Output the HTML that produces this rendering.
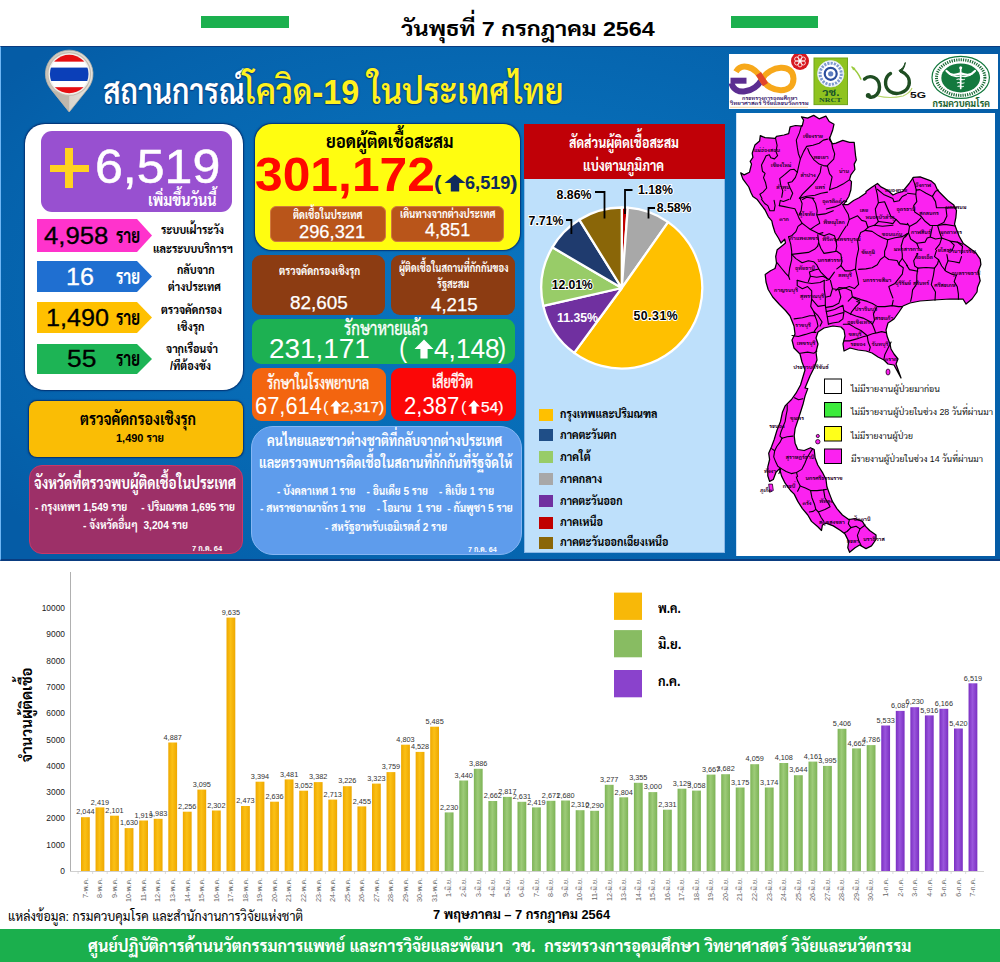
<!DOCTYPE html>
<html lang="th"><head><meta charset="utf-8"><title>สถานการณ์โควิด-19 ในประเทศไทย</title>
<style>
html,body{margin:0;padding:0;background:#fff;}
body{width:1000px;height:962px;position:relative;overflow:hidden;font-family:"Liberation Sans","Sarabun","Loma","Noto Sans Thai",sans-serif;color:#000;}
.a{position:absolute;white-space:nowrap;}
.b{font-weight:bold;}
.box{position:absolute;box-sizing:border-box;}
#panel{left:0;top:46px;width:1000px;height:515px;background:radial-gradient(ellipse 62% 70% at 50% 48%,#0974BF 0%,#076BB5 50%,#0562AC 85%,#055CA6 100%);border-top:1.5px solid #0a3c80;border-bottom:2px solid #0a3c80;border-left:1.5px solid #6fb6f4;}
.sh{box-shadow:0 0 1.5px 0.5px rgba(0,20,80,.65);}
svg text{font-family:"Liberation Sans","Sarabun","Loma","Noto Sans Thai",sans-serif;}
</style></head><body>
<!-- header -->
<div class="box" style="left:201px;top:16px;width:88px;height:12px;background:#1BB04E"></div>
<div class="box" style="left:731px;top:16px;width:87px;height:12px;background:#1BB04E"></div>
<div class="a b" style="left:400.9px;top:11.7px;font-size:21px;line-height:34px;color:#000;transform:scaleX(1.111);transform-origin:0 50%;">วันพุธที่ 7 กรกฎาคม 2564</div>
<div class="box" id="panel"></div>

<!-- pin -->
<svg class="a" style="left:40px;top:48px" width="60" height="68" viewBox="40 48 60 68">
<defs><linearGradient id="pg" x1="0" y1="0" x2="1" y2="0"><stop offset="0" stop-color="#c9c3b9"/><stop offset="0.5" stop-color="#d9d5cd"/><stop offset="1" stop-color="#e6e3dd"/></linearGradient>
<clipPath id="fc"><circle cx="69.2" cy="74" r="19.3"/></clipPath></defs>
<path d="M69.2,112 L50.7,88.9 A23.8,23.8 0 1 1 87.7,88.9 Z" fill="url(#pg)" stroke="#b9b2a6" stroke-width="0.8" stroke-linejoin="round"/>
<path d="M69.2,112 L69.2,95 L52,90.5 Z" fill="#b5aea3" opacity="0.75"/>
<circle cx="69.2" cy="74" r="21.3" fill="#f3f1ec" stroke="#c4beb3" stroke-width="1.2"/>
<g clip-path="url(#fc)"><rect x="49" y="54" width="41" height="7.8" fill="#E60E12"/><rect x="49" y="61.8" width="41" height="5.8" fill="#fff"/><rect x="49" y="67.6" width="41" height="13.4" fill="#0B3FB8"/><rect x="49" y="81" width="41" height="6.2" fill="#fff"/><rect x="49" y="87.2" width="41" height="8" fill="#E60E12"/></g>
</svg>
<div class="a b" style="left:102.5px;top:63.9px;font-size:35px;line-height:56px;color:#fff;transform:scaleX(0.845);transform-origin:0 50%;font-weight:600;text-shadow:0 0 2px #0a3a7c,0 1px 1px #0a3a7c;">สถานการณ์</div>
<div class="a b" style="left:242.5px;top:63.9px;font-size:35px;line-height:56px;color:#FFF21E;transform:scaleX(0.923);transform-origin:0 50%;font-weight:600;text-shadow:0 0 2px #0a3a7c,0 1px 1px #0a3a7c;">โควิด-19 ในประเทศไทย</div>

<!-- left white box -->
<div class="box sh" style="left:24.7px;top:124px;width:218.7px;height:266.3px;background:#fff;border-radius:20px;"></div>
<div class="box" style="left:41px;top:131px;width:191px;height:81px;background:#9850D0;border-radius:11px;"></div>
<div class="box" style="left:49.5px;top:164.5px;width:39.5px;height:7px;background:#FFD21F;"></div>
<div class="box" style="left:65px;top:148px;width:8px;height:40px;background:#FFD21F;"></div>
<div class="a" style="left:94.6px;top:128.8px;font-size:47.5px;line-height:76px;color:#fff;transform:scaleX(1.054);transform-origin:0 50%;-webkit-text-stroke:0.5px #fff;">6,519</div>
<div class="a b" style="left:147.5px;top:187.8px;font-size:16px;line-height:26px;color:#fff;transform:scaleX(0.890);transform-origin:0 50%;">เพิ่มขึ้นวันนี้</div>
<svg class="a" style="left:37px;top:219px" width="116" height="33"><polygon points="0,0 100,0 115,16.5 100,33 0,33" fill="#FF33CC"/></svg>
<div class="a" style="left:43.8px;top:215.8px;font-size:24.5px;line-height:39px;color:#000;transform:scaleX(1.051);transform-origin:0 50%;-webkit-text-stroke:0.3px #000;">4,958</div>
<div class="a b" style="left:116.0px;top:220.6px;font-size:19.5px;line-height:31px;color:#000;transform:scaleX(0.771);transform-origin:0 50%;">ราย</div>
<div class="a b" style="left:161.0px;top:220.4px;font-size:12.5px;line-height:20px;color:#000;transform:scaleX(0.855);transform-origin:0 50%;">ระบบเฝ้าระวัง</div>
<div class="a b" style="left:153.0px;top:239.4px;font-size:12.5px;line-height:20px;color:#000;transform:scaleX(0.860);transform-origin:0 50%;">และระบบบริการฯ</div>
<svg class="a" style="left:37px;top:261px" width="116" height="31"><polygon points="0,0 100,0 115,15.5 100,31 0,31" fill="#1F6FD1"/></svg>
<div class="a" style="left:65.8px;top:256.8px;font-size:24.5px;line-height:39px;color:#fff;transform:scaleX(1.025);transform-origin:0 50%;-webkit-text-stroke:0.3px #fff;">16</div>
<div class="a b" style="left:116.0px;top:261.6px;font-size:19.5px;line-height:31px;color:#fff;transform:scaleX(0.771);transform-origin:0 50%;">ราย</div>
<div class="a b" style="left:177.0px;top:260.4px;font-size:12.5px;line-height:20px;color:#000;transform:scaleX(0.851);transform-origin:0 50%;">กลับจาก</div>
<div class="a b" style="left:168.0px;top:276.9px;font-size:12.5px;line-height:20px;color:#000;transform:scaleX(0.854);transform-origin:0 50%;">ต่างประเทศ</div>
<svg class="a" style="left:37px;top:302px" width="116" height="31"><polygon points="0,0 100,0 115,15.5 100,31 0,31" fill="#FFC000"/></svg>
<div class="a" style="left:46.3px;top:297.8px;font-size:24.5px;line-height:39px;color:#000;transform:scaleX(1.027);transform-origin:0 50%;-webkit-text-stroke:0.3px #000;">1,490</div>
<div class="a b" style="left:116.0px;top:302.6px;font-size:19.5px;line-height:31px;color:#000;transform:scaleX(0.771);transform-origin:0 50%;">ราย</div>
<div class="a b" style="left:161.0px;top:300.4px;font-size:12.5px;line-height:20px;color:#000;transform:scaleX(0.864);transform-origin:0 50%;">ตรวจคัดกรอง</div>
<div class="a b" style="left:177.0px;top:316.9px;font-size:12.5px;line-height:20px;color:#000;transform:scaleX(0.861);transform-origin:0 50%;">เชิงรุก</div>
<svg class="a" style="left:37px;top:344px" width="116" height="30"><polygon points="0,0 100,0 115,15.0 100,30 0,30" fill="#1DB455"/></svg>
<div class="a" style="left:66.8px;top:339.3px;font-size:24.5px;line-height:39px;color:#000;transform:scaleX(1.080);transform-origin:0 50%;-webkit-text-stroke:0.3px #000;">55</div>
<div class="a b" style="left:116.0px;top:344.1px;font-size:19.5px;line-height:31px;color:#000;transform:scaleX(0.771);transform-origin:0 50%;">ราย</div>
<div class="a b" style="left:166.0px;top:339.4px;font-size:12.5px;line-height:20px;color:#000;transform:scaleX(0.860);transform-origin:0 50%;">จากเรือนจำ</div>
<div class="a b" style="left:170.0px;top:356.4px;font-size:12.5px;line-height:20px;color:#000;transform:scaleX(0.867);transform-origin:0 50%;">/ที่ต้องขัง</div>

<div class="box sh" style="left:28.5px;top:401.2px;width:214.3px;height:56px;background:#FABD05;border-radius:8px;"></div>
<div class="a b" style="left:80.0px;top:405.7px;font-size:17px;line-height:27px;color:#000;transform:scaleX(0.832);transform-origin:0 50%;">ตรวจคัดกรองเชิงรุก</div>
<div class="a b" style="left:116.0px;top:428.5px;font-size:11.5px;line-height:18px;color:#000;transform:scaleX(0.954);transform-origin:0 50%;">1,490 ราย</div>
<div class="box" style="left:29px;top:465px;width:214px;height:89px;background:#9D3068;border-radius:13px;border:1px solid #c83868;"></div>
<div class="a b" style="left:34.0px;top:471.3px;font-size:16px;line-height:26px;color:#fff;transform:scaleX(0.840);transform-origin:0 50%;">จังหวัดที่ตรวจพบผู้ติดเชื้อในประเทศ</div>
<div class="a b" style="left:35.0px;top:497.5px;font-size:11px;line-height:18px;color:#fff;transform:scaleX(0.916);transform-origin:0 50%;">- กรุงเทพฯ 1,549 ราย &nbsp;&nbsp;&nbsp; - ปริมณฑล 1,695 ราย</div>
<div class="a b" style="left:82.5px;top:516.2px;font-size:11px;line-height:18px;color:#fff;transform:scaleX(0.926);transform-origin:0 50%;">- จังหวัดอื่นๆ &nbsp;3,204 ราย</div>
<div class="a b" style="left:192.1px;top:542.8px;font-size:7.5px;line-height:12px;color:#fff;transform:scaleX(1.008);transform-origin:0 50%;">7 ก.ค. 64</div>

<!-- middle column -->
<div class="box sh" style="left:254.7px;top:124px;width:265.3px;height:125.7px;background:#FFFD10;border-radius:17px;"></div>
<div class="a b" style="left:326.0px;top:128.2px;font-size:18px;line-height:29px;color:#000;transform:scaleX(0.927);transform-origin:0 50%;">ยอดผู้ติดเชื้อสะสม</div>
<div class="a b" style="left:255.2px;top:135.1px;font-size:49px;line-height:78px;color:#FF0800;transform:scaleX(1.016);transform-origin:0 50%;">301,172</div>
<div class="a b" style="left:434.0px;top:167.2px;font-size:20px;line-height:32px;color:#0F2A5C;transform:scaleX(1.124);transform-origin:0 50%;">(</div>
<div class="a b" style="left:465.1px;top:169.2px;font-size:18px;line-height:29px;color:#0F2A5C;transform:scaleX(1.008);transform-origin:0 50%;">6,519</div>
<div class="a b" style="left:510.0px;top:167.2px;font-size:20px;line-height:32px;color:#0F2A5C;transform:scaleX(1.139);transform-origin:0 50%;">)</div>
<svg class="a" style="left:444px;top:174px" width="22" height="18"><polygon points="11,0.5 21.5,9 15.2,9 15.2,17.5 6.8,17.5 6.8,9 0.5,9" fill="#0F2A5C"/></svg>
<div class="box" style="left:270px;top:206px;width:116px;height:36px;background:#B9551A;border-radius:6px;border:1px solid #d0793f;"></div>
<div class="box" style="left:391px;top:206px;width:113px;height:36px;background:#B9551A;border-radius:6px;border:1px solid #d0793f;"></div>
<div class="a b" style="left:293.0px;top:206.4px;font-size:12px;line-height:19px;color:#fff;transform:scaleX(0.801);transform-origin:0 50%;">ติดเชื้อในประเทศ</div>
<div class="a" style="left:298.7px;top:218.3px;font-size:18px;line-height:29px;color:#fff;transform:scaleX(1.017);transform-origin:0 50%;-webkit-text-stroke:0.25px #fff;">296,321</div>
<div class="a b" style="left:400.0px;top:204.9px;font-size:12px;line-height:19px;color:#fff;transform:scaleX(0.805);transform-origin:0 50%;">เดินทางจากต่างประเทศ</div>
<div class="a" style="left:424.7px;top:216.3px;font-size:18px;line-height:29px;color:#fff;transform:scaleX(1.003);transform-origin:0 50%;-webkit-text-stroke:0.25px #fff;">4,851</div>

<div class="box" style="left:252px;top:255px;width:133px;height:60px;background:#8C3C12;border-radius:9px;"></div>
<div class="box" style="left:391px;top:255px;width:124px;height:60px;background:#8C3C12;border-radius:9px;"></div>
<div class="a b" style="left:278.6px;top:261.9px;font-size:12px;line-height:19px;color:#fff;transform:scaleX(0.825);transform-origin:0 50%;">ตรวจคัดกรองเชิงรุก</div>
<div class="a" style="left:290.1px;top:288.1px;font-size:18.3px;line-height:29px;color:#fff;transform:scaleX(1.034);transform-origin:0 50%;-webkit-text-stroke:0.25px #fff;">82,605</div>
<div class="a b" style="left:398.5px;top:259.4px;font-size:12px;line-height:19px;color:#fff;transform:scaleX(0.778);transform-origin:0 50%;">ผู้ติดเชื้อในสถานที่กักกันของ</div>
<div class="a b" style="left:436.8px;top:274.9px;font-size:12px;line-height:19px;color:#fff;transform:scaleX(0.778);transform-origin:0 50%;">รัฐสะสม</div>
<div class="a" style="left:431.1px;top:289.5px;font-size:18.3px;line-height:29px;color:#fff;transform:scaleX(1.021);transform-origin:0 50%;-webkit-text-stroke:0.25px #fff;">4,215</div>

<div class="box" style="left:252px;top:319px;width:263px;height:45px;background:#1DB152;border-radius:9px;"></div>
<div class="a" style="left:344.4px;top:313.6px;font-size:19px;line-height:30px;color:#fff;transform:scaleX(0.791);transform-origin:0 50%;-webkit-text-stroke:0.35px #fff;">รักษาหายแล้ว</div>
<div class="a" style="left:268.6px;top:326.9px;font-size:27.5px;line-height:44px;color:#fff;transform:scaleX(1.014);transform-origin:0 50%;">231,171</div>
<div class="a" style="left:398.6px;top:326.8px;font-size:27px;line-height:43px;color:#fff;transform:scaleX(0.911);transform-origin:0 50%;">(</div>
<div class="a" style="left:434.0px;top:326.9px;font-size:27.5px;line-height:44px;color:#fff;transform:scaleX(0.955);transform-origin:0 50%;">4,148</div>
<div class="a" style="left:498.4px;top:326.8px;font-size:27px;line-height:43px;color:#fff;transform:scaleX(0.911);transform-origin:0 50%;">)</div>
<svg class="a" style="left:414px;top:338.5px" width="20" height="20"><polygon points="10,0.5 19.5,10 13.6,10 13.6,19.5 6.4,19.5 6.4,10 0.5,10" fill="#fff"/></svg>

<div class="box" style="left:252px;top:368px;width:134px;height:52.5px;background:#F3650F;border-radius:9px;"></div>
<div class="box" style="left:391px;top:368px;width:124.5px;height:52.5px;background:#FB0707;border-radius:9px;"></div>
<div class="a" style="left:267.4px;top:370.0px;font-size:17px;line-height:27px;color:#fff;transform:scaleX(0.748);transform-origin:0 50%;-webkit-text-stroke:0.35px #fff;">รักษาในโรงพยาบาล</div>
<div class="a" style="left:254.8px;top:387.3px;font-size:23.5px;line-height:38px;color:#fff;transform:scaleX(0.931);transform-origin:0 50%;">67,614</div>
<div class="a" style="left:322.6px;top:395.2px;font-size:15px;line-height:24px;color:#fff;transform:scaleX(1.120);transform-origin:0 50%;">(</div>
<div class="a" style="left:341.3px;top:395.7px;font-size:14.5px;line-height:23px;color:#fff;transform:scaleX(1.047);transform-origin:0 50%;-webkit-text-stroke:0.25px #fff;">2,317)</div>
<svg class="a" style="left:329.5px;top:400px" width="12" height="14"><polygon points="6,0.3 11.8,6.5 8.4,6.5 8.4,13.7 3.6,13.7 3.6,6.5 0.2,6.5" fill="#fff"/></svg>
<div class="a" style="left:432.0px;top:369.2px;font-size:17px;line-height:27px;color:#fff;transform:scaleX(0.757);transform-origin:0 50%;-webkit-text-stroke:0.35px #fff;">เสียชีวิต</div>
<div class="a" style="left:403.8px;top:387.3px;font-size:23.5px;line-height:38px;color:#fff;transform:scaleX(0.938);transform-origin:0 50%;">2,387</div>
<div class="a" style="left:461.2px;top:395.2px;font-size:15px;line-height:24px;color:#fff;transform:scaleX(1.100);transform-origin:0 50%;">(</div>
<div class="a" style="left:480.8px;top:395.7px;font-size:14.5px;line-height:23px;color:#fff;transform:scaleX(1.075);transform-origin:0 50%;-webkit-text-stroke:0.25px #fff;">54)</div>
<svg class="a" style="left:468px;top:400px" width="12" height="14"><polygon points="6,0.3 11.8,6.5 8.4,6.5 8.4,13.7 3.6,13.7 3.6,6.5 0.2,6.5" fill="#fff"/></svg>

<div class="box" style="left:251px;top:425.5px;width:270.5px;height:129.5px;background:#5E9CEC;border-radius:22px;border:1.5px solid #86b6f3;"></div>
<div class="a b" style="left:267.4px;top:428.6px;font-size:15px;line-height:24px;color:#fff;transform:scaleX(0.824);transform-origin:0 50%;">คนไทยและชาวต่างชาติที่กลับจากต่างประเทศ</div>
<div class="a b" style="left:259.0px;top:450.8px;font-size:15px;line-height:24px;color:#fff;transform:scaleX(0.829);transform-origin:0 50%;">และตรวจพบการติดเชื้อในสถานที่กักกันที่รัฐจัดให้</div>
<div class="a b" style="left:277.0px;top:481.5px;font-size:11px;line-height:18px;color:#fff;transform:scaleX(0.913);transform-origin:0 50%;">- บังคลาเทศ 1 ราย &nbsp;&nbsp; - อินเดีย 5 ราย &nbsp;&nbsp; - ลิเบีย 1 ราย</div>
<div class="a b" style="left:259.6px;top:499.3px;font-size:11px;line-height:18px;color:#fff;transform:scaleX(0.923);transform-origin:0 50%;">- สหราชอาณาจักร 1 ราย &nbsp;&nbsp; - โอมาน &nbsp;1 ราย &nbsp;- กัมพูชา 5 ราย</div>
<div class="a b" style="left:324.8px;top:517.5px;font-size:11px;line-height:18px;color:#fff;transform:scaleX(0.914);transform-origin:0 50%;">- สหรัฐอาหรับเอมิเรตส์ 2 ราย</div>
<div class="a b" style="left:467.6px;top:543.5px;font-size:7.5px;line-height:12px;color:#fff;transform:scaleX(0.958);transform-origin:0 50%;">7 ก.ค. 64</div>

<!-- pie panel -->
<div class="box" style="left:524px;top:124px;width:201px;height:429px;background:#BEE0FB;border:1px solid #8cb8e6;"></div>
<div class="box" style="left:524px;top:124px;width:201px;height:55px;background:#C00007;"></div>
<div class="a b" style="left:569.0px;top:129.8px;font-size:15.5px;line-height:25px;color:#fff;transform:scaleX(0.802);transform-origin:0 50%;">สัดส่วนผู้ติดเชื้อสะสม</div>
<div class="a b" style="left:583.0px;top:153.1px;font-size:15.5px;line-height:25px;color:#fff;transform:scaleX(0.799);transform-origin:0 50%;">แบ่งตามภูมิภาค</div>
<svg class="a" style="left:524px;top:179px" width="201" height="200" viewBox="524 179 201 200">
<path d="M621.8,288 L621.80,207.50 A80.5,80.5 0 0 1 627.76,207.72 Z" fill="#C00000" stroke="#fff" stroke-width="2.3" stroke-linejoin="round"/>
<path d="M621.8,288 L627.76,207.72 A80.5,80.5 0 0 1 668.13,222.17 Z" fill="#A8A8A8" stroke="#fff" stroke-width="2.3" stroke-linejoin="round"/>
<path d="M621.8,288 L668.13,222.17 A80.5,80.5 0 1 1 574.20,352.92 Z" fill="#FFC000" stroke="#fff" stroke-width="2.3" stroke-linejoin="round"/>
<path d="M621.8,288 L574.20,352.92 A80.5,80.5 0 0 1 543.33,305.96 Z" fill="#7030A0" stroke="#fff" stroke-width="2.3" stroke-linejoin="round"/>
<path d="M621.8,288 L543.33,305.96 A80.5,80.5 0 0 1 552.33,247.33 Z" fill="#98CC68" stroke="#fff" stroke-width="2.3" stroke-linejoin="round"/>
<path d="M621.8,288 L552.33,247.33 A80.5,80.5 0 0 1 579.27,219.65 Z" fill="#1F3B6E" stroke="#fff" stroke-width="2.3" stroke-linejoin="round"/>
<path d="M621.8,288 L579.27,219.65 A80.5,80.5 0 0 1 621.80,207.50 Z" fill="#8A6608" stroke="#fff" stroke-width="2.3" stroke-linejoin="round"/>

<g fill="none" stroke="#000" stroke-width="1.8">
<polyline points="625,214 625,190 632.5,190"/>
<polyline points="648.5,218.5 648.5,208 655,208"/>
<polyline points="595,192 604.5,192 604.5,218.5"/>
<polyline points="566,220 571.4,220 571.4,234"/>
</g>
<g font-weight="bold" font-size="12.3" paint-order="stroke" stroke="#fff" stroke-width="2" stroke-linejoin="round">
<text x="638" y="194.4">1.18%</text>
<text x="656.7" y="212.4">8.58%</text>
<text x="556.6" y="199.4">8.86%</text>
<text x="528.6" y="225">7.71%</text>
<text x="551.8" y="289.2" textLength="41">12.01%</text>
<text x="633.4" y="320" textLength="44.3">50.31%</text>
</g>
<text x="557" y="322.4" font-weight="bold" font-size="12.3" fill="#fff" textLength="41">11.35%</text>
</svg>
<div class="box" style="left:539px;top:408.5px;width:14px;height:12px;background:#FFC000;"></div>
<div class="a b" style="left:559.5px;top:404.4px;font-size:12.5px;line-height:20px;color:#000;transform:scaleX(0.855);transform-origin:0 50%;">กรุงเทพและปริมณฑล</div>
<div class="box" style="left:539px;top:429px;width:14px;height:12px;background:#1F4E87;"></div>
<div class="a b" style="left:559.5px;top:424.9px;font-size:12.5px;line-height:20px;color:#000;transform:scaleX(0.845);transform-origin:0 50%;">ภาคตะวันตก</div>
<div class="box" style="left:539px;top:451px;width:14px;height:12px;background:#98CC68;"></div>
<div class="a b" style="left:559.5px;top:446.9px;font-size:12.5px;line-height:20px;color:#000;transform:scaleX(0.866);transform-origin:0 50%;">ภาคใต้</div>
<div class="box" style="left:539px;top:473px;width:14px;height:12px;background:#A8A8A8;"></div>
<div class="a b" style="left:559.5px;top:468.9px;font-size:12.5px;line-height:20px;color:#000;transform:scaleX(0.854);transform-origin:0 50%;">ภาคกลาง</div>
<div class="box" style="left:539px;top:495px;width:14px;height:12px;background:#7030A0;"></div>
<div class="a b" style="left:559.5px;top:490.9px;font-size:12.5px;line-height:20px;color:#000;transform:scaleX(0.844);transform-origin:0 50%;">ภาคตะวันออก</div>
<div class="box" style="left:539px;top:516.5px;width:14px;height:12px;background:#C00000;"></div>
<div class="a b" style="left:559.5px;top:512.4px;font-size:12.5px;line-height:20px;color:#000;transform:scaleX(0.863);transform-origin:0 50%;">ภาคเหนือ</div>
<div class="box" style="left:539px;top:536.5px;width:14px;height:12px;background:#8A6608;"></div>
<div class="a b" style="left:559.5px;top:532.4px;font-size:12.5px;line-height:20px;color:#000;transform:scaleX(0.856);transform-origin:0 50%;">ภาคตะวันออกเฉียงเหนือ</div>

<!-- logos -->
<div class="box" style="left:729px;top:54px;width:269px;height:55.3px;background:#fff;"></div>
<svg class="a" style="left:729px;top:54px" width="268" height="55" viewBox="729 54 268 55">
<g fill="none" stroke-width="6" stroke-linecap="butt" transform="translate(0,1.2)">
<path d="M762,78 C754,92 735,95 731.5,82" stroke="#5C2D91"/>
<path d="M730.5,79.5 H746.5" stroke="#5C2D91"/>
<path d="M736,70.5 C741,62 754,64 762,78 C770,92 793.5,93.5 793.5,77.5 C793.5,61.5 770,64 762,78" stroke="#F7A81B"/>
<path d="M758.5,72.5 L765.5,83.5" stroke="#E2452A"/>
</g>
<circle cx="800" cy="61" r="9" fill="#D71920"/>
<g fill="none" stroke="#fff" stroke-width="0.8"><circle cx="800" cy="57.2" r="2.1"/><circle cx="803.3" cy="59.1" r="2.1"/><circle cx="803.3" cy="62.9" r="2.1"/><circle cx="800" cy="64.8" r="2.1"/><circle cx="796.7" cy="62.9" r="2.1"/><circle cx="796.7" cy="59.1" r="2.1"/></g><circle cx="800" cy="61" r="1.7" fill="#fff"/>
<text x="742" y="100.2" font-size="5.6" fill="#3d1d6b" font-weight="bold" textLength="55.4" lengthAdjust="spacingAndGlyphs">กระทรวงการอุดมศึกษา</text>
<text x="730" y="105.2" font-size="5.6" fill="#3d1d6b" font-weight="bold" textLength="78.6" lengthAdjust="spacingAndGlyphs">วิทยาศาสตร์ วิจัยและนวัตกรรม</text>
<line x1="730" y1="107.3" x2="808" y2="107.3" stroke="#f3c27a" stroke-width="0.7"/>
<rect x="814" y="58" width="33.5" height="46.6" fill="#8FC31F" stroke="#6fa51a" stroke-width="1"/>
<circle cx="830.7" cy="73.8" r="13.2" fill="#fff" stroke="#d7e2f2" stroke-width="0.8"/>
<circle cx="830.7" cy="73.8" r="10.6" fill="none" stroke="#7f9bd0" stroke-width="3" stroke-dasharray="2.2 1.1"/>
<circle cx="830.7" cy="73.8" r="6" fill="none" stroke="#2c4f9e" stroke-width="2.2"/>
<circle cx="830.7" cy="73.8" r="2.6" fill="#5f7fc0"/>
<text x="822.3" y="95.6" font-size="10.5" font-weight="bold" fill="#14532a" textLength="17.2" lengthAdjust="spacingAndGlyphs">วช.</text>
<text x="819" y="101.8" font-size="6.8" font-weight="bold" fill="#14532a" style="font-family:'Liberation Serif',serif" textLength="22.5" lengthAdjust="spacingAndGlyphs">NRCT</text>
<path d="M852,67 Q857.5,71.5 860.8,79" fill="none" stroke="#9ACA3C" stroke-width="1.6" stroke-linecap="round"/>
<path d="M852,67 L855.5,68 L853,70.5 Z" fill="#9ACA3C"/>
<path d="M878,96 Q890,99 903,96 Q910,93 912,88" fill="none" stroke="#b7d66a" stroke-width="1.1"/>
<g fill="none" stroke="#1f4d22" stroke-width="3.4" stroke-linecap="round">
<path d="M864.5,79 C870,74 879.5,77.5 879.5,87 C879.5,94 874.5,98 869.5,97"/>
<path d="M890.5,73.5 C884.5,77 883.5,87 890,91.5 C896.5,95.5 906.5,93 909,85 C910.5,78 906,73.5 901.5,71.5"/>
</g>
<path d="M900.5,72.5 C903.5,69.5 905,66 905.3,62.5 C904,66.5 902,69 899,70.5 Z" fill="#1f4d22" stroke="#1f4d22" stroke-width="1"/>
<circle cx="868.3" cy="95.4" r="2.5" fill="#1f4d22"/>
<text x="910" y="98.2" font-size="9.2" font-weight="bold" fill="#111" textLength="16" lengthAdjust="spacingAndGlyphs">5G</text>
<ellipse cx="960.7" cy="77.4" rx="28.7" ry="21" fill="#fff" stroke="#13793e" stroke-width="1.2"/>
<ellipse cx="960.7" cy="77.6" rx="24.2" ry="17.8" fill="none" stroke="#1a6a35" stroke-width="3" stroke-dasharray="1.2 1.1"/>
<ellipse cx="960.7" cy="77.9" rx="19.4" ry="14.5" fill="#13793e"/>
<g fill="none" stroke="#fff" stroke-linecap="round" transform="translate(0,1.4)">
<path d="M960.7,66.5 V87" stroke-width="1.7"/>
<path d="M946.5,69.5 C951,75 956,73.5 960.7,72 C965.4,73.5 970.4,75 975,69.5" stroke-width="2.2"/>
<path d="M949,72.5 C953,76 957,75.5 960.7,74.5 C964.4,75.5 968.4,76 972.4,72.5" stroke-width="1.2"/>
<path d="M957,78 C959,76.5 962.4,79.5 964.4,78 M957.4,81.5 C959.4,80 962,83 964,81.5 M958,85 C959.5,83.7 961.9,86.3 963.4,85" stroke-width="1.1"/>
</g>
<circle cx="960.7" cy="67.7" r="1.5" fill="#fff"/>
<text x="932.5" y="107.2" font-size="9.6" font-weight="bold" fill="#14602a" textLength="57.5" lengthAdjust="spacingAndGlyphs">กรมควบคุมโรค</text>
</svg>

<!-- map -->
<div class="box" style="left:736px;top:112.5px;width:259.3px;height:443px;background:#fff;border-left:1px solid #cfe2f7;"></div>
<svg class="a" style="left:736px;top:113px" width="258" height="442" viewBox="736 113 258 442">
<polygon points="740.7,172.8 744.1,174.9 749.5,172.2 751.5,164.1 750.2,161.4 752.9,157.3 752.2,153.2 754.9,145.1 759.6,141.1 760.3,135.7 765.1,137.7 775.2,138.4 776.5,136.4 784.0,135.0 788.7,133.6 790.1,126.9 795.5,125.5 802.2,126.2 803.6,120.1 801.5,116.8 807.6,118.1 813.7,115.4 819.1,118.8 825.9,116.1 829.2,121.5 834.0,124.2 832.6,130.3 830.6,135.7 829.2,139.1 832.6,143.8 836.0,143.1 842.8,140.4 849.5,142.4 854.2,142.4 854.9,149.2 855.6,155.9 856.3,160.0 854.2,164.1 854.9,169.5 850.9,174.9 849.5,179.6 851.5,181.6 850.9,189.7 848.8,196.5 845.5,201.9 843.4,204.6 848.2,204.6 853.6,200.5 859.0,197.8 866.0,193.1 866.0,191.6 871.4,187.6 877.5,183.5 880.9,186.9 887.6,190.3 893.0,195.0 897.1,193.0 902.5,191.6 909.2,183.5 913.3,177.4 920.1,176.8 925.5,178.8 930.9,180.8 934.9,184.2 937.6,190.3 943.0,195.7 948.4,201.1 953.8,205.1 956.5,210.5 955.9,217.3 954.5,224.1 956.5,229.5 959.2,236.2 963.3,243.6 970.1,248.4 975.5,252.4 980.2,259.2 980.9,264.6 978.2,271.4 980.2,280.8 977.5,287.6 977.0,292.0 972.0,299.0 966.0,304.0 963.0,299.0 950.0,299.0 934.0,300.0 920.0,301.0 910.0,303.0 903.0,306.0 899.0,312.0 894.0,319.0 888.0,323.0 886.0,330.0 887.0,336.0 890.0,344.0 891.0,349.0 894.0,354.0 898.0,359.0 896.0,364.0 901.0,378.0 894.0,365.0 888.0,364.0 884.0,360.0 878.0,357.0 872.0,353.0 866.0,351.0 858.0,350.0 850.0,348.0 844.0,351.0 843.0,344.0 845.0,336.0 844.0,330.0 841.0,327.0 833.0,326.0 824.0,328.0 818.0,332.0 816.0,338.0 818.0,344.0 816.0,352.0 817.0,360.0 814.0,368.0 810.0,376.0 805.0,388.0 807.8,388.6 805.1,395.9 803.3,403.2 800.5,412.3 797.8,420.5 795.1,428.6 794.2,435.9 795.1,443.2 797.8,449.5 804.2,450.5 810.5,447.7 814.2,449.5 815.1,457.7 817.8,465.0 822.4,472.3 826.0,479.5 826.9,486.8 829.6,494.1 832.4,501.4 836.9,508.6 842.4,515.0 848.7,519.5 855.1,518.6 862.4,521.4 865.1,525.9 869.6,530.5 876.0,535.0 876.0,539.5 871.5,545.9 866.0,548.6 859.6,545.0 855.1,547.7 849.6,552.3 847.8,547.7 848.7,541.4 845.1,534.1 840.5,530.5 833.3,525.9 826.0,523.2 822.4,525.0 821.5,530.5 817.8,526.8 811.5,521.4 807.8,515.0 802.4,508.6 797.8,501.4 794.2,494.1 790.5,490.5 785.1,483.2 781.5,475.9 779.6,468.6 776.0,472.3 773.3,479.5 769.6,481.4 767.8,475.9 767.8,466.8 769.6,459.5 768.7,453.2 771.5,446.8 774.2,439.5 776.9,430.5 780.5,421.4 782.4,412.3 785.1,405.9 791.5,399.5 796.0,393.2 800.5,385.0 802.0,380.0 805.0,370.0 802.0,362.0 800.0,354.0 794.0,348.0 792.0,340.0 795.0,334.0 794.0,326.0 790.0,316.0 785.5,310.5 779.5,304.5 772.7,297.0 768.2,289.5 766.0,282.0 765.2,274.5 770.5,270.7 775.0,268.5 776.5,263.2 775.7,256.5 777.2,249.7 781.0,246.7 785.5,243.0 784.7,239.2 781.0,243.0 778.7,238.5 775.0,232.5 772.7,225.0 771.8,220.8 768.4,216.8 765.1,210.0 761.0,204.6 756.9,199.2 752.9,196.5 750.9,192.4 748.8,187.0 744.8,181.6 742.8,178.9" fill="#FB22F0" stroke="#000" stroke-width="1.25" stroke-linejoin="round"/>
<polygon points="768.7,484.1 772.4,484.1 773.3,490.5 769.6,492.3" fill="#FB22F0" stroke="#1a001a" stroke-width="0.8"/>
<ellipse cx="888" cy="372" rx="2" ry="3" fill="#FB22F0" stroke="#1a001a" stroke-width="0.8"/>
<ellipse cx="817.8" cy="436" rx="1.6" ry="1.6" fill="#FB22F0" stroke="#1a001a" stroke-width="0.8"/>
<ellipse cx="817.8" cy="441.7" rx="2.2" ry="2.2" fill="#FB22F0" stroke="#1a001a" stroke-width="0.8"/>
<g fill="none" stroke="#000" stroke-width="1.1" stroke-linejoin="round" stroke-linecap="round">
<polyline points="775.5,138.1 777.1,145.3 776.0,151.6 777.6,155.7 774.5,158.9 770.8,157.8 769.3,154.7 766.1,155.7 764.1,159.9 761.5,165.1 762.5,171.3 765.1,173.4 763.5,177.6 765.6,182.8 766.7,188.0 763.0,192.1 759.9,194.2 762.0,198.4"/>
<polyline points="801.5,125.6 799.4,132.9 796.3,140.1 797.3,147.4 798.4,153.7 800.4,158.9 798.9,165.1 797.3,172.4 794.2,169.3 790.1,169.8 784.9,174.4 779.7,178.6 780.7,184.8 782.8,191.1 781.7,197.3"/>
<polyline points="797.3,172.4 795.3,177.6 792.1,181.7 788.0,182.8 790.1,188.0 792.7,193.2 790.1,199.4"/>
<polyline points="800.4,158.9 803.6,151.6 806.7,146.4 812.9,145.3 819.2,143.3 823.3,140.1 827.5,139.1"/>
<polyline points="807.7,148.5 809.8,153.7 814.0,159.9 819.2,164.1 823.3,165.6 827.5,166.1"/>
<polyline points="821.2,166.1 820.2,172.4 817.1,178.6 812.9,183.8 807.7,189.0 802.5,194.2 799.4,198.4"/>
<polyline points="799.4,198.4 806.7,196.3 815.0,195.2 821.2,193.2 827.5,192.1"/>
<polyline points="802.5,199.4 806.7,197.3 814.0,198.4"/>
<polyline points="829.5,137.3 831.6,142.5 832.6,147.7 834.7,153.9 833.7,159.1 828.5,164.3 827.4,165.9"/>
<polyline points="827.4,165.9 829.5,173.7 832.1,176.8 830.6,184.1 829.5,189.8"/>
<polyline points="829.5,189.8 836.8,187.2 843.0,184.1 849.3,179.9"/>
<polyline points="826.4,209.0 834.7,206.9 839.9,204.8 844.1,200.7 846.7,201.7"/>
<polyline points="842.5,204.3 845.1,209.0 848.2,214.2 849.3,219.4 847.2,225.6"/>
<polyline points="849.3,219.4 857.6,215.8 861.7,220.4 865.9,221.5 868.0,227.7"/>
<polyline points="875.3,186.1 877.3,194.4 878.4,202.8 875.3,209.0 876.3,216.3 878.4,221.5 874.2,225.6"/>
<polyline points="877.3,189.3 883.6,194.4 892.9,198.6 894.0,201.7 899.2,200.7 902.3,196.5 906.4,194.4"/>
<polyline points="878.4,202.8 884.6,201.7 887.7,209.0 890.8,216.3 896.0,219.4 892.9,223.6 886.7,222.5 878.4,221.5"/>
<polyline points="896.0,219.4 900.2,223.6 907.5,224.6"/>
<polyline points="912.6,178.2 914.7,183.9 916.3,190.1"/>
<polyline points="916.3,190.1 919.9,189.6 926.1,193.3 932.4,196.4 935.5,191.2 938.6,190.1"/>
<polyline points="907.4,193.3 915.8,194.3 916.3,190.1"/>
<polyline points="915.8,194.3 916.8,201.6 913.7,205.7 914.7,212.0 920.9,216.1"/>
<polyline points="932.4,196.4 935.5,201.6 936.5,207.8 945.9,207.8 956.3,207.8"/>
<polyline points="945.9,207.8 946.9,216.1 943.8,222.4 937.6,225.5"/>
<polyline points="920.9,216.1 925.1,221.3 930.3,225.5 937.6,225.5"/>
<polyline points="907.4,223.4 909.5,226.5 916.8,222.4 920.9,218.2"/>
<polyline points="909.5,226.5 908.5,232.8 910.6,239.0 916.8,243.2 925.1,242.1 927.2,238.0 930.3,236.9 931.3,231.7 932.4,226.5"/>
<polyline points="937.6,225.5 944.9,224.4 955.3,226.0"/>
<polyline points="937.6,225.5 939.7,232.8 941.7,238.0 950.1,241.1 957.3,242.1 962.5,244.2"/>
<polyline points="930.3,236.9 935.5,239.0 941.7,238.0"/>
<polyline points="908.5,232.8 905.4,236.9"/>
<polyline points="916.8,243.2 918.9,248.4"/>
<polyline points="941.7,238.0 939.7,244.2 935.5,249.4"/>
<polyline points="950.1,241.1 954.2,245.2 952.1,250.4"/>
<polyline points="957.3,242.1 962.5,246.3 961.5,253.6"/>
<polyline points="916.8,253.5 917.8,253.5 913.7,260.8 914.7,266.0 917.8,268.1"/>
<polyline points="917.8,268.1 926.1,267.5 934.5,268.1 937.6,263.9 938.6,259.8 934.5,256.6 936.5,250.4"/>
<polyline points="938.6,259.8 941.7,266.0 945.9,271.2 952.1,274.3 956.3,275.3"/>
<polyline points="946.9,254.6 948.0,260.8 945.9,266.0 944.9,270.1"/>
<polyline points="948.0,260.8 954.2,261.8 959.4,262.9 961.5,256.6"/>
<polyline points="956.3,275.3 954.2,281.6 957.3,286.8 958.4,294.1 958.4,299.3"/>
<polyline points="934.5,268.1 933.4,275.3 931.3,284.7 935.5,292.0 935.0,300.3"/>
<polyline points="917.8,268.1 916.8,275.3 916.8,283.7 912.6,289.9 911.6,297.2 910.6,301.3"/>
<polyline points="906.4,264.9 909.5,269.6 917.8,271.2"/>
<polyline points="846.1,226.2 842.0,232.5 837.8,239.8"/>
<polyline points="835.8,239.8 837.8,239.8"/>
<polyline points="835.8,239.8 836.8,246.0 835.8,251.2"/>
<polyline points="836.8,251.2 840.9,254.3 842.0,261.6 840.9,265.7 845.1,270.9 850.3,270.9 855.5,268.9"/>
<polyline points="868.0,227.3 864.9,230.4 860.7,232.5 857.6,240.8 858.6,249.1 856.5,258.5 855.5,268.9 857.6,278.2 858.6,284.4 854.5,288.6 849.3,286.5"/>
<polyline points="864.9,230.4 872.1,231.4 878.4,235.6 882.5,237.7 887.7,239.8 886.7,246.0 884.6,251.2 884.6,256.4"/>
<polyline points="884.6,256.4 880.4,259.5 877.3,264.7 872.1,267.8 865.9,268.9 858.6,269.4"/>
<polyline points="868.0,227.3 874.2,225.2 882.5,226.2 892.9,225.2"/>
<polyline points="887.7,239.8 895.0,237.7 902.3,236.6 907.5,233.5"/>
<polyline points="907.5,233.5 903.3,238.7 901.2,246.0 902.3,254.3 902.3,258.5"/>
<polyline points="884.6,256.4 888.8,259.5 897.1,260.5 899.2,264.7 903.3,267.8 902.3,274.1 898.1,279.3 895.0,283.4 888.8,286.5 890.8,292.8 892.9,298.0"/>
<polyline points="902.3,258.5 899.2,262.6 899.2,264.7"/>
<polyline points="902.3,258.5 907.5,265.7"/>
<polyline points="853.4,296.9 859.7,299.0"/>
<polyline points="836.8,268.9 840.9,265.7"/>
<polyline points="835.8,290.7 838.9,287.6 845.1,288.1 849.3,286.5"/>
<polyline points="845.1,288.1 851.3,290.7 852.4,296.9 848.2,301.1"/>
<polyline points="852.4,296.9 859.7,301.1"/>
<polyline points="761.6,199.4 764.7,203.5 767.8,205.6 769.9,210.8 774.1,210.8 775.1,205.6 774.1,200.4"/>
<polyline points="779.3,205.6 780.3,200.4 783.4,201.4 788.6,199.4"/>
<polyline points="779.3,205.6 784.5,206.6 789.7,207.7 794.9,208.7 796.9,212.9"/>
<polyline points="796.9,212.9 799.0,218.1 802.1,223.3 798.0,226.4 795.9,231.6 791.7,235.7 788.6,236.8"/>
<polyline points="812.5,198.3 815.6,203.5 817.2,210.8 816.7,214.9 818.8,220.1 819.8,223.3 814.6,226.4 810.4,229.5 806.3,226.4 802.1,223.3"/>
<polyline points="800.1,198.3 802.1,203.5 801.1,210.8 799.0,214.9"/>
<polyline points="817.2,214.9 825.0,213.9 833.3,210.8"/>
<polyline points="810.4,229.5 814.6,231.6 818.8,233.7 822.9,232.6"/>
<polyline points="817.7,234.7 818.8,242.0 817.7,246.1"/>
<polyline points="818.8,233.7 824.0,235.7 829.2,233.7 834.4,235.7 836.4,242.0"/>
<polyline points="836.4,251.3 830.2,252.4 824.0,253.4 820.8,248.2 818.8,243.0"/>
<polyline points="788.6,236.8 790.7,244.1 791.7,251.3 791.7,254.4 800.1,253.4 808.4,252.4 814.6,249.3 817.7,246.1"/>
<polyline points="791.7,254.4 795.9,258.6 802.1,262.8 808.4,260.7 813.6,261.7 816.7,264.8 818.8,269.0 820.8,272.1 827.1,278.4 829.2,279.4 834.4,272.1"/>
<polyline points="777.2,262.8 781.3,268.0 785.5,273.2 788.6,276.3 789.7,268.0 791.7,259.6 791.7,254.4"/>
<polyline points="788.6,276.3 789.7,279.4"/>
<polyline points="808.4,281.5 810.4,276.3 809.4,272.1 814.6,270.0 818.8,269.0"/>
<polyline points="810.4,276.3 816.7,277.3 822.9,276.3 827.1,278.4"/>
<polyline points="826.0,280.4 829.2,279.4"/>
<polyline points="797.2,280.4 797.2,285.6 802.4,288.7 807.6,286.6 811.7,290.8 811.7,299.1 810.7,306.4 813.8,311.6 814.9,315.7"/>
<polyline points="794.1,318.9 802.4,317.8 809.7,315.7 814.9,315.7"/>
<polyline points="792.0,335.5 798.2,336.5 805.5,334.4 811.7,332.4 815.9,332.4"/>
<polyline points="814.9,315.7 816.9,320.9 818.0,326.1 814.9,330.3 813.8,332.4"/>
<polyline points="800.3,353.2 807.6,352.1 813.8,353.2 816.9,351.1"/>
<polyline points="797.2,280.4 805.5,282.5 811.7,283.5 820.1,282.5 824.2,280.4"/>
<polyline points="824.2,280.4 824.2,288.7 825.3,297.0 825.3,305.3 826.3,311.6 827.3,316.8 828.4,324.1"/>
<polyline points="811.7,299.1 818.0,306.4 825.3,305.3"/>
<polyline points="813.8,311.6 818.0,315.7 822.1,322.0 820.1,326.1"/>
<polyline points="830.4,280.4 832.5,288.7 830.4,296.0 826.3,297.0"/>
<polyline points="832.5,288.7 838.8,289.8 840.8,297.0 838.8,303.3 832.5,306.4 826.3,307.4"/>
<polyline points="826.3,311.6 834.6,309.5 842.9,305.3 844.0,311.6 842.9,318.9 838.8,322.0 832.5,323.0 828.4,324.1"/>
<polyline points="827.3,316.8 832.5,315.7 838.8,313.7 843.4,312.6"/>
<polyline points="838.8,289.8 845.0,287.7"/>
<polyline points="859.9,299.4 867.2,301.4 872.4,303.5 877.6,306.6 884.9,306.6 892.1,305.6 898.4,306.6 902.5,306.6"/>
<polyline points="893.2,300.4 892.1,305.6"/>
<polyline points="876.5,307.7 873.4,313.9 874.5,320.1 872.4,324.3 874.5,329.5 875.5,332.6"/>
<polyline points="856.8,301.4 859.9,302.5 855.8,306.6 851.6,311.8 850.6,313.9"/>
<polyline points="850.6,313.9 855.8,316.0 863.0,318.1 869.3,321.2 872.4,324.3"/>
<polyline points="843.3,324.3 849.5,324.3 854.7,327.4 860.9,330.5 866.1,334.7 867.2,335.7"/>
<polyline points="867.2,335.7 872.4,333.7 877.6,332.6 881.7,331.6 885.9,332.6"/>
<polyline points="844.3,340.9 849.5,340.9 856.8,338.9 863.0,336.8 867.2,335.7"/>
<polyline points="867.2,335.7 868.2,342.0 870.3,347.2 869.3,350.8"/>
<polyline points="891.1,342.0 888.0,348.2 884.9,354.4 883.8,359.6"/>
<polyline points="844.3,310.8 850.6,313.9"/>
<polyline points="794.5,397.7 798.6,399.8 802.8,398.7"/>
<polyline points="787.2,404.9 787.2,410.1 786.1,415.3 785.1,421.6 783.0,426.8 780.9,432.0 779.9,436.1 782.0,438.2"/>
<polyline points="782.0,438.2 787.2,436.7 792.9,436.1"/>
<polyline points="782.0,438.2 779.9,442.4 776.8,446.5 774.7,450.7 773.7,456.9 775.8,462.1 777.8,466.3 780.9,468.4"/>
<polyline points="780.9,468.4 778.9,473.6"/>
<polyline points="780.9,468.4 786.1,471.5 791.3,473.6 796.5,472.5 801.7,469.4 804.9,463.2 806.9,458.0 810.1,452.8 812.7,448.6"/>
<polyline points="796.5,472.5 797.6,476.7"/>
<polyline points="771.6,448.6 774.7,450.7"/>
<polyline points="796.3,476.9 797.6,480.8"/>
<polyline points="797.6,480.8 800.2,486.0 797.6,491.2"/>
<polyline points="800.2,486.0 805.4,488.0 810.6,490.6 817.1,490.6 823.6,489.9 826.9,489.3"/>
<polyline points="810.6,490.6 811.9,497.7 814.5,504.2 815.8,509.4 813.2,511.4 809.3,512.0"/>
<polyline points="823.6,489.9 824.9,497.7 828.8,504.2 830.1,506.8 824.9,509.4 818.4,512.0 815.8,509.4"/>
<polyline points="818.4,512.0 821.0,517.2 823.6,521.1"/>
<polyline points="849.6,519.2 848.3,523.7 850.9,527.6 847.0,531.5 844.4,532.8"/>
<polyline points="850.9,527.6 856.1,526.3 860.0,528.9 865.2,525.0"/>
<polyline points="860.0,528.9 857.4,535.4 858.7,540.6 861.3,545.8"/>
</g>

<g font-size="5.5" fill="#1e001e" text-anchor="middle" font-weight="bold">
<text x="813" y="138">เชียงราย</text><text x="767" y="152">แม่ฮ่องสอน</text><text x="781" y="167">เชียงใหม่</text><text x="821" y="159">พะเยา</text><text x="844" y="173">น่าน</text><text x="808" y="177">ลำปาง</text><text x="783" y="189">ลำพูน</text><text x="820" y="189">แพร่</text><text x="832" y="203">อุตรดิตถ์</text><text x="784" y="221">ตาก</text><text x="807" y="216">สุโขทัย</text><text x="834" y="224">พิษณุโลก</text><text x="864" y="212">เลย</text><text x="880" y="219">หนองบัวลำภู</text><text x="906" y="211">อุดรธานี</text><text x="929" y="215">สกลนคร</text><text x="923" y="187">บึงกาฬ</text><text x="896" y="192">หนองคาย</text><text x="956" y="209">นครพนม</text><text x="804" y="240">กำแพงเพชร</text><text x="829" y="241">พิจิตร</text><text x="849" y="241">เพชรบูรณ์</text><text x="892" y="236">ขอนแก่น</text><text x="921" y="234">กาฬสินธุ์</text><text x="951" y="234">มุกดาหาร</text><text x="868" y="254">ชัยภูมิ</text><text x="908" y="251">มหาสารคาม</text><text x="924" y="259">ร้อยเอ็ด</text><text x="945" y="252">ยโสธร</text><text x="962" y="253">อำนาจเจริญ</text><text x="830" y="262">นครสวรรค์</text><text x="805" y="270">อุทัยธานี</text><text x="845" y="277">ลพบุรี</text><text x="877" y="282">นครราชสีมา</text><text x="903" y="285">บุรีรัมย์</text><text x="921" y="285">สุรินทร์</text><text x="945" y="287">ศรีสะเกษ</text><text x="966" y="275">อุบลราชธานี</text><text x="786" y="292">กาญจนบุรี</text><text x="812" y="298">สุพรรณบุรี</text><text x="866" y="311">ปราจีนบุรี</text><text x="884" y="320">สระแก้ว</text><text x="860" y="324">ฉะเชิงเทรา</text><text x="803" y="327">ราชบุรี</text><text x="855" y="336">ชลบุรี</text><text x="858" y="346">ระยอง</text><text x="880" y="346">จันทบุรี</text><text x="891" y="361">ตราด</text><text x="806" y="345">เพชรบุรี</text><text x="811" y="369">ประจวบคีรีขันธ์</text><text x="797" y="420">ชุมพร</text><text x="777" y="428">ระนอง</text><text x="800" y="459">สุราษฎร์ธานี</text><text x="770" y="473">พังงา</text><text x="766" y="492">ภูเก็ต</text><text x="789" y="488">กระบี่</text><text x="824" y="480">นครศรีธรรมราช</text><text x="807" y="505">ตรัง</text><text x="826" y="503">พัทลุง</text><text x="824" y="524">สตูล</text><text x="837" y="524">สงขลา</text><text x="862" y="521">ปัตตานี</text><text x="853" y="543">ยะลา</text><text x="874" y="541">นราธิวาส</text>
</g>
<rect x="824.5" y="379" width="17" height="14.5" fill="#fff" stroke="#000" stroke-width="1"/>
<text x="851" y="391.8" font-size="9" fill="#111" textLength="89" lengthAdjust="spacingAndGlyphs">ไม่มีรายงานผู้ป่วยมาก่อน</text>
<rect x="824.5" y="402.5" width="17" height="14.5" fill="#3CEB3C" stroke="#000" stroke-width="1"/>
<text x="851" y="415.3" font-size="9" fill="#111" textLength="142" lengthAdjust="spacingAndGlyphs">ไม่มีรายงานผู้ป่วยในช่วง 28 วันที่ผ่านมา</text>
<rect x="824.5" y="426.5" width="17" height="14.5" fill="#FFFF1A" stroke="#000" stroke-width="1"/>
<text x="851" y="439.3" font-size="9" fill="#111" textLength="62" lengthAdjust="spacingAndGlyphs">ไม่มีรายงานผู้ป่วย</text>
<rect x="824.5" y="449" width="17" height="14.5" fill="#FB22F0" stroke="#000" stroke-width="1"/>
<text x="851" y="461.8" font-size="9" fill="#111" textLength="132" lengthAdjust="spacingAndGlyphs">มีรายงานผู้ป่วยในช่วง 14 วันที่ผ่านมา</text>
</svg>

<svg class="a" style="left:0;top:564px" width="1000" height="365" viewBox="0 564 1000 365">
<defs>
<linearGradient id="gm" x1="0" x2="1"><stop offset="0" stop-color="#EEA800"/><stop offset="0.45" stop-color="#FBC015"/><stop offset="1" stop-color="#EEA800"/></linearGradient>
<linearGradient id="gj" x1="0" x2="1"><stop offset="0" stop-color="#7DB356"/><stop offset="0.45" stop-color="#9DCB78"/><stop offset="1" stop-color="#7DB356"/></linearGradient>
<linearGradient id="gk" x1="0" x2="1"><stop offset="0" stop-color="#7A2FC2"/><stop offset="0.45" stop-color="#9A55DC"/><stop offset="1" stop-color="#7A2FC2"/></linearGradient>
</defs>
<line x1="70.5" y1="572" x2="70.5" y2="871" stroke="#b0b0b0" stroke-width="1"/>
<line x1="70" y1="871.5" x2="984" y2="871.5" stroke="#d0d0d0" stroke-width="1"/>
<text x="65" y="874.0" text-anchor="end" font-size="8.4" fill="#222">0</text>
<text x="65" y="847.7" text-anchor="end" font-size="8.4" fill="#222">1000</text>
<text x="65" y="821.4" text-anchor="end" font-size="8.4" fill="#222">2000</text>
<text x="65" y="795.1" text-anchor="end" font-size="8.4" fill="#222">3000</text>
<text x="65" y="768.8" text-anchor="end" font-size="8.4" fill="#222">4000</text>
<text x="65" y="742.5" text-anchor="end" font-size="8.4" fill="#222">5000</text>
<text x="65" y="716.2" text-anchor="end" font-size="8.4" fill="#222">6000</text>
<text x="65" y="689.9" text-anchor="end" font-size="8.4" fill="#222">7000</text>
<text x="65" y="663.6" text-anchor="end" font-size="8.4" fill="#222">8000</text>
<text x="65" y="637.3" text-anchor="end" font-size="8.4" fill="#222">9000</text>
<text x="65" y="611.0" text-anchor="end" font-size="8.4" fill="#222">10000</text>
<rect x="81.00" y="817.2" width="8.8" height="53.8" fill="url(#gm)"/>
<text x="85.40" y="814.4" text-anchor="middle" font-size="7.3" fill="#333">2,044</text>
<text transform="translate(87.70,878) rotate(-90)" text-anchor="end" font-size="7.2" fill="#666">7-พ.ค.</text>
<line x1="78.10" y1="871" x2="78.10" y2="874" stroke="#ccc" stroke-width="0.7"/>
<rect x="95.55" y="807.4" width="8.8" height="63.6" fill="url(#gm)"/>
<text x="99.95" y="804.6" text-anchor="middle" font-size="7.3" fill="#333">2,419</text>
<text transform="translate(102.25,878) rotate(-90)" text-anchor="end" font-size="7.2" fill="#666">8-พ.ค.</text>
<line x1="92.65" y1="871" x2="92.65" y2="874" stroke="#ccc" stroke-width="0.7"/>
<rect x="110.10" y="815.7" width="8.8" height="55.3" fill="url(#gm)"/>
<text x="114.50" y="812.9" text-anchor="middle" font-size="7.3" fill="#333">2,101</text>
<text transform="translate(116.80,878) rotate(-90)" text-anchor="end" font-size="7.2" fill="#666">9-พ.ค.</text>
<line x1="107.20" y1="871" x2="107.20" y2="874" stroke="#ccc" stroke-width="0.7"/>
<rect x="124.65" y="828.1" width="8.8" height="42.9" fill="url(#gm)"/>
<text x="129.05" y="825.3" text-anchor="middle" font-size="7.3" fill="#333">1,630</text>
<text transform="translate(131.35,878) rotate(-90)" text-anchor="end" font-size="7.2" fill="#666">10-พ.ค.</text>
<line x1="121.75" y1="871" x2="121.75" y2="874" stroke="#ccc" stroke-width="0.7"/>
<rect x="139.20" y="820.5" width="8.8" height="50.5" fill="url(#gm)"/>
<text x="143.60" y="817.7" text-anchor="middle" font-size="7.3" fill="#333">1,919</text>
<text transform="translate(145.90,878) rotate(-90)" text-anchor="end" font-size="7.2" fill="#666">11-พ.ค.</text>
<line x1="136.30" y1="871" x2="136.30" y2="874" stroke="#ccc" stroke-width="0.7"/>
<rect x="153.75" y="818.8" width="8.8" height="52.2" fill="url(#gm)"/>
<text x="158.15" y="816.0" text-anchor="middle" font-size="7.3" fill="#333">1,983</text>
<text transform="translate(160.45,878) rotate(-90)" text-anchor="end" font-size="7.2" fill="#666">12-พ.ค.</text>
<line x1="150.85" y1="871" x2="150.85" y2="874" stroke="#ccc" stroke-width="0.7"/>
<rect x="168.30" y="742.5" width="8.8" height="128.5" fill="url(#gm)"/>
<text x="172.70" y="739.7" text-anchor="middle" font-size="7.3" fill="#333">4,887</text>
<text transform="translate(175.00,878) rotate(-90)" text-anchor="end" font-size="7.2" fill="#666">13-พ.ค.</text>
<line x1="165.40" y1="871" x2="165.40" y2="874" stroke="#ccc" stroke-width="0.7"/>
<rect x="182.85" y="811.7" width="8.8" height="59.3" fill="url(#gm)"/>
<text x="187.25" y="808.9" text-anchor="middle" font-size="7.3" fill="#333">2,256</text>
<text transform="translate(189.55,878) rotate(-90)" text-anchor="end" font-size="7.2" fill="#666">14-พ.ค.</text>
<line x1="179.95" y1="871" x2="179.95" y2="874" stroke="#ccc" stroke-width="0.7"/>
<rect x="197.40" y="789.6" width="8.8" height="81.4" fill="url(#gm)"/>
<text x="201.80" y="786.8" text-anchor="middle" font-size="7.3" fill="#333">3,095</text>
<text transform="translate(204.10,878) rotate(-90)" text-anchor="end" font-size="7.2" fill="#666">15-พ.ค.</text>
<line x1="194.50" y1="871" x2="194.50" y2="874" stroke="#ccc" stroke-width="0.7"/>
<rect x="211.95" y="810.5" width="8.8" height="60.5" fill="url(#gm)"/>
<text x="216.35" y="807.7" text-anchor="middle" font-size="7.3" fill="#333">2,302</text>
<text transform="translate(218.65,878) rotate(-90)" text-anchor="end" font-size="7.2" fill="#666">16-พ.ค.</text>
<line x1="209.05" y1="871" x2="209.05" y2="874" stroke="#ccc" stroke-width="0.7"/>
<rect x="226.50" y="617.6" width="8.8" height="253.4" fill="url(#gm)"/>
<text x="230.90" y="614.8" text-anchor="middle" font-size="7.3" fill="#333">9,635</text>
<text transform="translate(233.20,878) rotate(-90)" text-anchor="end" font-size="7.2" fill="#666">17-พ.ค.</text>
<line x1="223.60" y1="871" x2="223.60" y2="874" stroke="#ccc" stroke-width="0.7"/>
<rect x="241.05" y="806.0" width="8.8" height="65.0" fill="url(#gm)"/>
<text x="245.45" y="803.2" text-anchor="middle" font-size="7.3" fill="#333">2,473</text>
<text transform="translate(247.75,878) rotate(-90)" text-anchor="end" font-size="7.2" fill="#666">18-พ.ค.</text>
<line x1="238.15" y1="871" x2="238.15" y2="874" stroke="#ccc" stroke-width="0.7"/>
<rect x="255.60" y="781.7" width="8.8" height="89.3" fill="url(#gm)"/>
<text x="260.00" y="778.9" text-anchor="middle" font-size="7.3" fill="#333">3,394</text>
<text transform="translate(262.30,878) rotate(-90)" text-anchor="end" font-size="7.2" fill="#666">19-พ.ค.</text>
<line x1="252.70" y1="871" x2="252.70" y2="874" stroke="#ccc" stroke-width="0.7"/>
<rect x="270.15" y="801.7" width="8.8" height="69.3" fill="url(#gm)"/>
<text x="274.55" y="798.9" text-anchor="middle" font-size="7.3" fill="#333">2,636</text>
<text transform="translate(276.85,878) rotate(-90)" text-anchor="end" font-size="7.2" fill="#666">20-พ.ค.</text>
<line x1="267.25" y1="871" x2="267.25" y2="874" stroke="#ccc" stroke-width="0.7"/>
<rect x="284.70" y="779.4" width="8.8" height="91.6" fill="url(#gm)"/>
<text x="289.10" y="776.6" text-anchor="middle" font-size="7.3" fill="#333">3,481</text>
<text transform="translate(291.40,878) rotate(-90)" text-anchor="end" font-size="7.2" fill="#666">21-พ.ค.</text>
<line x1="281.80" y1="871" x2="281.80" y2="874" stroke="#ccc" stroke-width="0.7"/>
<rect x="299.25" y="790.7" width="8.8" height="80.3" fill="url(#gm)"/>
<text x="303.65" y="787.9" text-anchor="middle" font-size="7.3" fill="#333">3,052</text>
<text transform="translate(305.95,878) rotate(-90)" text-anchor="end" font-size="7.2" fill="#666">22-พ.ค.</text>
<line x1="296.35" y1="871" x2="296.35" y2="874" stroke="#ccc" stroke-width="0.7"/>
<rect x="313.80" y="782.1" width="8.8" height="88.9" fill="url(#gm)"/>
<text x="318.20" y="779.3" text-anchor="middle" font-size="7.3" fill="#333">3,382</text>
<text transform="translate(320.50,878) rotate(-90)" text-anchor="end" font-size="7.2" fill="#666">23-พ.ค.</text>
<line x1="310.90" y1="871" x2="310.90" y2="874" stroke="#ccc" stroke-width="0.7"/>
<rect x="328.35" y="799.6" width="8.8" height="71.4" fill="url(#gm)"/>
<text x="332.75" y="796.8" text-anchor="middle" font-size="7.3" fill="#333">2,713</text>
<text transform="translate(335.05,878) rotate(-90)" text-anchor="end" font-size="7.2" fill="#666">24-พ.ค.</text>
<line x1="325.45" y1="871" x2="325.45" y2="874" stroke="#ccc" stroke-width="0.7"/>
<rect x="342.90" y="786.2" width="8.8" height="84.8" fill="url(#gm)"/>
<text x="347.30" y="783.4" text-anchor="middle" font-size="7.3" fill="#333">3,226</text>
<text transform="translate(349.60,878) rotate(-90)" text-anchor="end" font-size="7.2" fill="#666">25-พ.ค.</text>
<line x1="340.00" y1="871" x2="340.00" y2="874" stroke="#ccc" stroke-width="0.7"/>
<rect x="357.45" y="806.4" width="8.8" height="64.6" fill="url(#gm)"/>
<text x="361.85" y="803.6" text-anchor="middle" font-size="7.3" fill="#333">2,455</text>
<text transform="translate(364.15,878) rotate(-90)" text-anchor="end" font-size="7.2" fill="#666">26-พ.ค.</text>
<line x1="354.55" y1="871" x2="354.55" y2="874" stroke="#ccc" stroke-width="0.7"/>
<rect x="372.00" y="783.6" width="8.8" height="87.4" fill="url(#gm)"/>
<text x="376.40" y="780.8" text-anchor="middle" font-size="7.3" fill="#333">3,323</text>
<text transform="translate(378.70,878) rotate(-90)" text-anchor="end" font-size="7.2" fill="#666">27-พ.ค.</text>
<line x1="369.10" y1="871" x2="369.10" y2="874" stroke="#ccc" stroke-width="0.7"/>
<rect x="386.55" y="772.1" width="8.8" height="98.9" fill="url(#gm)"/>
<text x="390.95" y="769.3" text-anchor="middle" font-size="7.3" fill="#333">3,759</text>
<text transform="translate(393.25,878) rotate(-90)" text-anchor="end" font-size="7.2" fill="#666">28-พ.ค.</text>
<line x1="383.65" y1="871" x2="383.65" y2="874" stroke="#ccc" stroke-width="0.7"/>
<rect x="401.10" y="744.7" width="8.8" height="126.3" fill="url(#gm)"/>
<text x="405.50" y="741.9" text-anchor="middle" font-size="7.3" fill="#333">4,803</text>
<text transform="translate(407.80,878) rotate(-90)" text-anchor="end" font-size="7.2" fill="#666">29-พ.ค.</text>
<line x1="398.20" y1="871" x2="398.20" y2="874" stroke="#ccc" stroke-width="0.7"/>
<rect x="415.65" y="751.9" width="8.8" height="119.1" fill="url(#gm)"/>
<text x="420.05" y="749.1" text-anchor="middle" font-size="7.3" fill="#333">4,528</text>
<text transform="translate(422.35,878) rotate(-90)" text-anchor="end" font-size="7.2" fill="#666">30-พ.ค.</text>
<line x1="412.75" y1="871" x2="412.75" y2="874" stroke="#ccc" stroke-width="0.7"/>
<rect x="430.20" y="726.7" width="8.8" height="144.3" fill="url(#gm)"/>
<text x="434.60" y="723.9" text-anchor="middle" font-size="7.3" fill="#333">5,485</text>
<text transform="translate(436.90,878) rotate(-90)" text-anchor="end" font-size="7.2" fill="#666">31-พ.ค.</text>
<line x1="427.30" y1="871" x2="427.30" y2="874" stroke="#ccc" stroke-width="0.7"/>
<rect x="444.75" y="812.4" width="8.8" height="58.6" fill="url(#gj)"/>
<text x="449.15" y="809.6" text-anchor="middle" font-size="7.3" fill="#333">2,230</text>
<text transform="translate(451.45,878) rotate(-90)" text-anchor="end" font-size="7.2" fill="#666">1-มิ.ย.</text>
<line x1="441.85" y1="871" x2="441.85" y2="874" stroke="#ccc" stroke-width="0.7"/>
<rect x="459.30" y="780.5" width="8.8" height="90.5" fill="url(#gj)"/>
<text x="463.70" y="777.7" text-anchor="middle" font-size="7.3" fill="#333">3,440</text>
<text transform="translate(466.00,878) rotate(-90)" text-anchor="end" font-size="7.2" fill="#666">2-มิ.ย.</text>
<line x1="456.40" y1="871" x2="456.40" y2="874" stroke="#ccc" stroke-width="0.7"/>
<rect x="473.85" y="768.8" width="8.8" height="102.2" fill="url(#gj)"/>
<text x="478.25" y="766.0" text-anchor="middle" font-size="7.3" fill="#333">3,886</text>
<text transform="translate(480.55,878) rotate(-90)" text-anchor="end" font-size="7.2" fill="#666">3-มิ.ย.</text>
<line x1="470.95" y1="871" x2="470.95" y2="874" stroke="#ccc" stroke-width="0.7"/>
<rect x="488.40" y="801.0" width="8.8" height="70.0" fill="url(#gj)"/>
<text x="492.80" y="798.2" text-anchor="middle" font-size="7.3" fill="#333">2,662</text>
<text transform="translate(495.10,878) rotate(-90)" text-anchor="end" font-size="7.2" fill="#666">4-มิ.ย.</text>
<line x1="485.50" y1="871" x2="485.50" y2="874" stroke="#ccc" stroke-width="0.7"/>
<rect x="502.95" y="796.9" width="8.8" height="74.1" fill="url(#gj)"/>
<text x="507.35" y="794.1" text-anchor="middle" font-size="7.3" fill="#333">2,817</text>
<text transform="translate(509.65,878) rotate(-90)" text-anchor="end" font-size="7.2" fill="#666">5-มิ.ย.</text>
<line x1="500.05" y1="871" x2="500.05" y2="874" stroke="#ccc" stroke-width="0.7"/>
<rect x="517.50" y="801.8" width="8.8" height="69.2" fill="url(#gj)"/>
<text x="521.90" y="799.0" text-anchor="middle" font-size="7.3" fill="#333">2,631</text>
<text transform="translate(524.20,878) rotate(-90)" text-anchor="end" font-size="7.2" fill="#666">6-มิ.ย.</text>
<line x1="514.60" y1="871" x2="514.60" y2="874" stroke="#ccc" stroke-width="0.7"/>
<rect x="532.05" y="807.4" width="8.8" height="63.6" fill="url(#gj)"/>
<text x="536.45" y="804.6" text-anchor="middle" font-size="7.3" fill="#333">2,419</text>
<text transform="translate(538.75,878) rotate(-90)" text-anchor="end" font-size="7.2" fill="#666">7-มิ.ย.</text>
<line x1="529.15" y1="871" x2="529.15" y2="874" stroke="#ccc" stroke-width="0.7"/>
<rect x="546.60" y="800.8" width="8.8" height="70.2" fill="url(#gj)"/>
<text x="551.00" y="798.0" text-anchor="middle" font-size="7.3" fill="#333">2,671</text>
<text transform="translate(553.30,878) rotate(-90)" text-anchor="end" font-size="7.2" fill="#666">8-มิ.ย.</text>
<line x1="543.70" y1="871" x2="543.70" y2="874" stroke="#ccc" stroke-width="0.7"/>
<rect x="561.15" y="800.5" width="8.8" height="70.5" fill="url(#gj)"/>
<text x="565.55" y="797.7" text-anchor="middle" font-size="7.3" fill="#333">2,680</text>
<text transform="translate(567.85,878) rotate(-90)" text-anchor="end" font-size="7.2" fill="#666">9-มิ.ย.</text>
<line x1="558.25" y1="871" x2="558.25" y2="874" stroke="#ccc" stroke-width="0.7"/>
<rect x="575.70" y="810.2" width="8.8" height="60.8" fill="url(#gj)"/>
<text x="580.10" y="807.4" text-anchor="middle" font-size="7.3" fill="#333">2,310</text>
<text transform="translate(582.40,878) rotate(-90)" text-anchor="end" font-size="7.2" fill="#666">10-มิ.ย.</text>
<line x1="572.80" y1="871" x2="572.80" y2="874" stroke="#ccc" stroke-width="0.7"/>
<rect x="590.25" y="810.8" width="8.8" height="60.2" fill="url(#gj)"/>
<text x="594.65" y="808.0" text-anchor="middle" font-size="7.3" fill="#333">2,290</text>
<text transform="translate(596.95,878) rotate(-90)" text-anchor="end" font-size="7.2" fill="#666">11-มิ.ย.</text>
<line x1="587.35" y1="871" x2="587.35" y2="874" stroke="#ccc" stroke-width="0.7"/>
<rect x="604.80" y="784.8" width="8.8" height="86.2" fill="url(#gj)"/>
<text x="609.20" y="782.0" text-anchor="middle" font-size="7.3" fill="#333">3,277</text>
<text transform="translate(611.50,878) rotate(-90)" text-anchor="end" font-size="7.2" fill="#666">12-มิ.ย.</text>
<line x1="601.90" y1="871" x2="601.90" y2="874" stroke="#ccc" stroke-width="0.7"/>
<rect x="619.35" y="797.3" width="8.8" height="73.7" fill="url(#gj)"/>
<text x="623.75" y="794.5" text-anchor="middle" font-size="7.3" fill="#333">2,804</text>
<text transform="translate(626.05,878) rotate(-90)" text-anchor="end" font-size="7.2" fill="#666">13-มิ.ย.</text>
<line x1="616.45" y1="871" x2="616.45" y2="874" stroke="#ccc" stroke-width="0.7"/>
<rect x="633.90" y="782.8" width="8.8" height="88.2" fill="url(#gj)"/>
<text x="638.30" y="780.0" text-anchor="middle" font-size="7.3" fill="#333">3,355</text>
<text transform="translate(640.60,878) rotate(-90)" text-anchor="end" font-size="7.2" fill="#666">14-มิ.ย.</text>
<line x1="631.00" y1="871" x2="631.00" y2="874" stroke="#ccc" stroke-width="0.7"/>
<rect x="648.45" y="792.1" width="8.8" height="78.9" fill="url(#gj)"/>
<text x="652.85" y="789.3" text-anchor="middle" font-size="7.3" fill="#333">3,000</text>
<text transform="translate(655.15,878) rotate(-90)" text-anchor="end" font-size="7.2" fill="#666">15-มิ.ย.</text>
<line x1="645.55" y1="871" x2="645.55" y2="874" stroke="#ccc" stroke-width="0.7"/>
<rect x="663.00" y="809.7" width="8.8" height="61.3" fill="url(#gj)"/>
<text x="667.40" y="806.9" text-anchor="middle" font-size="7.3" fill="#333">2,331</text>
<text transform="translate(669.70,878) rotate(-90)" text-anchor="end" font-size="7.2" fill="#666">16-มิ.ย.</text>
<line x1="660.10" y1="871" x2="660.10" y2="874" stroke="#ccc" stroke-width="0.7"/>
<rect x="677.55" y="788.7" width="8.8" height="82.3" fill="url(#gj)"/>
<text x="681.95" y="785.9" text-anchor="middle" font-size="7.3" fill="#333">3,129</text>
<text transform="translate(684.25,878) rotate(-90)" text-anchor="end" font-size="7.2" fill="#666">17-มิ.ย.</text>
<line x1="674.65" y1="871" x2="674.65" y2="874" stroke="#ccc" stroke-width="0.7"/>
<rect x="692.10" y="790.6" width="8.8" height="80.4" fill="url(#gj)"/>
<text x="696.50" y="787.8" text-anchor="middle" font-size="7.3" fill="#333">3,058</text>
<text transform="translate(698.80,878) rotate(-90)" text-anchor="end" font-size="7.2" fill="#666">18-มิ.ย.</text>
<line x1="689.20" y1="871" x2="689.20" y2="874" stroke="#ccc" stroke-width="0.7"/>
<rect x="706.65" y="774.6" width="8.8" height="96.4" fill="url(#gj)"/>
<text x="711.05" y="771.8" text-anchor="middle" font-size="7.3" fill="#333">3,667</text>
<text transform="translate(713.35,878) rotate(-90)" text-anchor="end" font-size="7.2" fill="#666">19-มิ.ย.</text>
<line x1="703.75" y1="871" x2="703.75" y2="874" stroke="#ccc" stroke-width="0.7"/>
<rect x="721.20" y="774.2" width="8.8" height="96.8" fill="url(#gj)"/>
<text x="725.60" y="771.4" text-anchor="middle" font-size="7.3" fill="#333">3,682</text>
<text transform="translate(727.90,878) rotate(-90)" text-anchor="end" font-size="7.2" fill="#666">20-มิ.ย.</text>
<line x1="718.30" y1="871" x2="718.30" y2="874" stroke="#ccc" stroke-width="0.7"/>
<rect x="735.75" y="787.5" width="8.8" height="83.5" fill="url(#gj)"/>
<text x="740.15" y="784.7" text-anchor="middle" font-size="7.3" fill="#333">3,175</text>
<text transform="translate(742.45,878) rotate(-90)" text-anchor="end" font-size="7.2" fill="#666">21-มิ.ย.</text>
<line x1="732.85" y1="871" x2="732.85" y2="874" stroke="#ccc" stroke-width="0.7"/>
<rect x="750.30" y="764.2" width="8.8" height="106.8" fill="url(#gj)"/>
<text x="754.70" y="761.4" text-anchor="middle" font-size="7.3" fill="#333">4,059</text>
<text transform="translate(757.00,878) rotate(-90)" text-anchor="end" font-size="7.2" fill="#666">22-มิ.ย.</text>
<line x1="747.40" y1="871" x2="747.40" y2="874" stroke="#ccc" stroke-width="0.7"/>
<rect x="764.85" y="787.5" width="8.8" height="83.5" fill="url(#gj)"/>
<text x="769.25" y="784.7" text-anchor="middle" font-size="7.3" fill="#333">3,174</text>
<text transform="translate(771.55,878) rotate(-90)" text-anchor="end" font-size="7.2" fill="#666">23-มิ.ย.</text>
<line x1="761.95" y1="871" x2="761.95" y2="874" stroke="#ccc" stroke-width="0.7"/>
<rect x="779.40" y="763.0" width="8.8" height="108.0" fill="url(#gj)"/>
<text x="783.80" y="760.2" text-anchor="middle" font-size="7.3" fill="#333">4,108</text>
<text transform="translate(786.10,878) rotate(-90)" text-anchor="end" font-size="7.2" fill="#666">24-มิ.ย.</text>
<line x1="776.50" y1="871" x2="776.50" y2="874" stroke="#ccc" stroke-width="0.7"/>
<rect x="793.95" y="775.2" width="8.8" height="95.8" fill="url(#gj)"/>
<text x="798.35" y="772.4" text-anchor="middle" font-size="7.3" fill="#333">3,644</text>
<text transform="translate(800.65,878) rotate(-90)" text-anchor="end" font-size="7.2" fill="#666">25-มิ.ย.</text>
<line x1="791.05" y1="871" x2="791.05" y2="874" stroke="#ccc" stroke-width="0.7"/>
<rect x="808.50" y="761.6" width="8.8" height="109.4" fill="url(#gj)"/>
<text x="812.90" y="758.8" text-anchor="middle" font-size="7.3" fill="#333">4,161</text>
<text transform="translate(815.20,878) rotate(-90)" text-anchor="end" font-size="7.2" fill="#666">26-มิ.ย.</text>
<line x1="805.60" y1="871" x2="805.60" y2="874" stroke="#ccc" stroke-width="0.7"/>
<rect x="823.05" y="765.9" width="8.8" height="105.1" fill="url(#gj)"/>
<text x="827.45" y="763.1" text-anchor="middle" font-size="7.3" fill="#333">3,995</text>
<text transform="translate(829.75,878) rotate(-90)" text-anchor="end" font-size="7.2" fill="#666">27-มิ.ย.</text>
<line x1="820.15" y1="871" x2="820.15" y2="874" stroke="#ccc" stroke-width="0.7"/>
<rect x="837.60" y="728.8" width="8.8" height="142.2" fill="url(#gj)"/>
<text x="842.00" y="726.0" text-anchor="middle" font-size="7.3" fill="#333">5,406</text>
<text transform="translate(844.30,878) rotate(-90)" text-anchor="end" font-size="7.2" fill="#666">28-มิ.ย.</text>
<line x1="834.70" y1="871" x2="834.70" y2="874" stroke="#ccc" stroke-width="0.7"/>
<rect x="852.15" y="748.4" width="8.8" height="122.6" fill="url(#gj)"/>
<text x="856.55" y="745.6" text-anchor="middle" font-size="7.3" fill="#333">4,662</text>
<text transform="translate(858.85,878) rotate(-90)" text-anchor="end" font-size="7.2" fill="#666">29-มิ.ย.</text>
<line x1="849.25" y1="871" x2="849.25" y2="874" stroke="#ccc" stroke-width="0.7"/>
<rect x="866.70" y="745.1" width="8.8" height="125.9" fill="url(#gj)"/>
<text x="871.10" y="742.3" text-anchor="middle" font-size="7.3" fill="#333">4,786</text>
<text transform="translate(873.40,878) rotate(-90)" text-anchor="end" font-size="7.2" fill="#666">30-มิ.ย.</text>
<line x1="863.80" y1="871" x2="863.80" y2="874" stroke="#ccc" stroke-width="0.7"/>
<rect x="881.25" y="725.5" width="8.8" height="145.5" fill="url(#gk)"/>
<text x="885.65" y="722.7" text-anchor="middle" font-size="7.3" fill="#333">5,533</text>
<text transform="translate(887.95,878) rotate(-90)" text-anchor="end" font-size="7.2" fill="#666">1-ก.ค.</text>
<line x1="878.35" y1="871" x2="878.35" y2="874" stroke="#ccc" stroke-width="0.7"/>
<rect x="895.80" y="710.9" width="8.8" height="160.1" fill="url(#gk)"/>
<text x="900.20" y="708.1" text-anchor="middle" font-size="7.3" fill="#333">6,087</text>
<text transform="translate(902.50,878) rotate(-90)" text-anchor="end" font-size="7.2" fill="#666">2-ก.ค.</text>
<line x1="892.90" y1="871" x2="892.90" y2="874" stroke="#ccc" stroke-width="0.7"/>
<rect x="910.35" y="707.2" width="8.8" height="163.8" fill="url(#gk)"/>
<text x="914.75" y="704.4" text-anchor="middle" font-size="7.3" fill="#333">6,230</text>
<text transform="translate(917.05,878) rotate(-90)" text-anchor="end" font-size="7.2" fill="#666">3-ก.ค.</text>
<line x1="907.45" y1="871" x2="907.45" y2="874" stroke="#ccc" stroke-width="0.7"/>
<rect x="924.90" y="715.4" width="8.8" height="155.6" fill="url(#gk)"/>
<text x="929.30" y="712.6" text-anchor="middle" font-size="7.3" fill="#333">5,916</text>
<text transform="translate(931.60,878) rotate(-90)" text-anchor="end" font-size="7.2" fill="#666">4-ก.ค.</text>
<line x1="922.00" y1="871" x2="922.00" y2="874" stroke="#ccc" stroke-width="0.7"/>
<rect x="939.45" y="708.8" width="8.8" height="162.2" fill="url(#gk)"/>
<text x="943.85" y="706.0" text-anchor="middle" font-size="7.3" fill="#333">6,166</text>
<text transform="translate(946.15,878) rotate(-90)" text-anchor="end" font-size="7.2" fill="#666">5-ก.ค.</text>
<line x1="936.55" y1="871" x2="936.55" y2="874" stroke="#ccc" stroke-width="0.7"/>
<rect x="954.00" y="728.5" width="8.8" height="142.5" fill="url(#gk)"/>
<text x="958.40" y="725.7" text-anchor="middle" font-size="7.3" fill="#333">5,420</text>
<text transform="translate(960.70,878) rotate(-90)" text-anchor="end" font-size="7.2" fill="#666">6-ก.ค.</text>
<line x1="951.10" y1="871" x2="951.10" y2="874" stroke="#ccc" stroke-width="0.7"/>
<rect x="968.55" y="683.3" width="8.8" height="187.7" fill="url(#gk)"/>
<text x="972.95" y="680.5" text-anchor="middle" font-size="7.3" fill="#333">6,519</text>
<text transform="translate(975.25,878) rotate(-90)" text-anchor="end" font-size="7.2" fill="#666">7-ก.ค.</text>
<line x1="965.65" y1="871" x2="965.65" y2="874" stroke="#ccc" stroke-width="0.7"/>

<rect x="614" y="592.6" width="28" height="27.3" fill="#F8B808"/>
<rect x="614" y="630.1" width="28" height="27.2" fill="#88BC62"/>
<rect x="614" y="670" width="28" height="27.3" fill="#8A42CC"/>
<text transform="translate(32,715) rotate(-90)" text-anchor="middle" font-size="15.5" font-weight="bold" textLength="95" lengthAdjust="spacingAndGlyphs">จำนวนผู้ติดเชื้อ</text>
</svg>
<div class="a b" style="left:657.5px;top:596.8px;font-size:14px;line-height:22px;color:#000;transform:scaleX(0.848);transform-origin:0 50%;">พ.ค.</div>
<div class="a b" style="left:657.5px;top:632.7px;font-size:14px;line-height:22px;color:#000;transform:scaleX(0.947);transform-origin:0 50%;">มิ.ย.</div>
<div class="a b" style="left:657.5px;top:670.3px;font-size:14px;line-height:22px;color:#000;transform:scaleX(0.905);transform-origin:0 50%;">ก.ค.</div>
<div class="a" style="left:8.0px;top:906.4px;font-size:13.5px;line-height:22px;color:#000;transform:scaleX(0.923);transform-origin:0 50%;">แหล่งข้อมูล: กรมควบคุมโรค และสำนักงานการวิจัยแห่งชาติ</div>
<div class="a b" style="left:433.0px;top:904.4px;font-size:13px;line-height:21px;color:#000;transform:scaleX(0.986);transform-origin:0 50%;">7 พฤษภาคม – 7 กรกฎาคม 2564</div>

<div class="box" style="left:0;top:929px;width:1000px;height:33px;background:#1BAF4D;"></div>
<div class="a b" style="left:87.5px;top:931.7px;font-size:17.5px;line-height:28px;color:#fff;transform:scaleX(0.914);transform-origin:0 50%;">ศูนย์ปฏิบัติการด้านนวัตกรรมการแพทย์ และการวิจัยและพัฒนา &nbsp;วช. &nbsp;กระทรวงการอุดมศึกษา วิทยาศาสตร์ วิจัยและนวัตกรรม</div>
</body></html>
